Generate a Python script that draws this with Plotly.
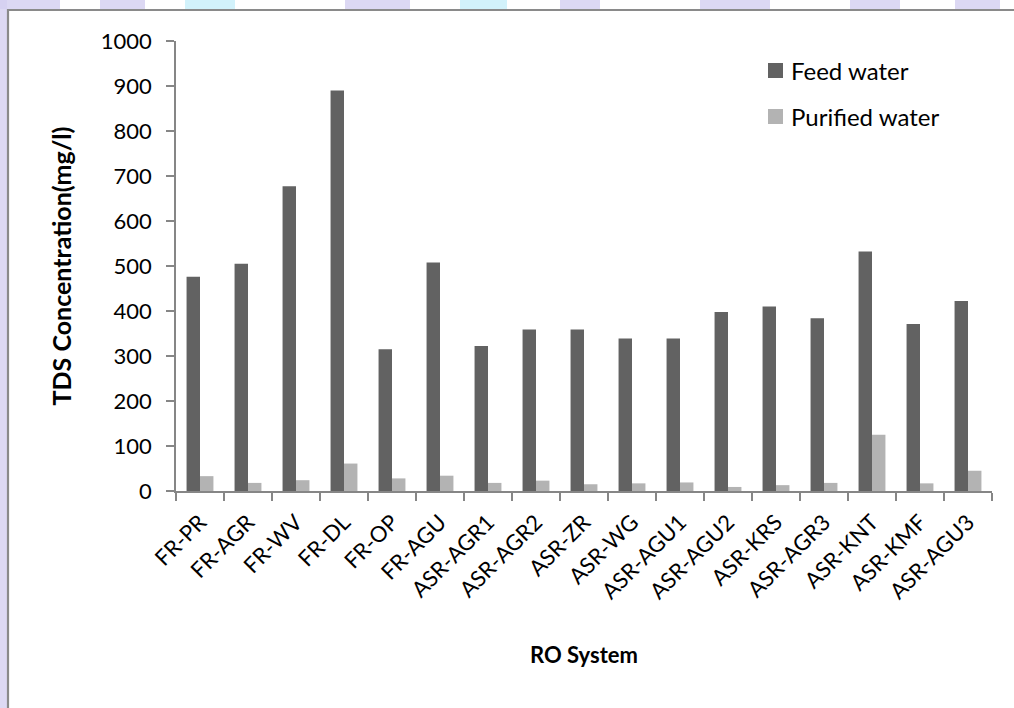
import plotly.graph_objects as go

# RO systems sampled
systems = ["FR-PR", "FR-AGR", "FR-WV", "FR-DL", "FR-OP", "FR-AGU",
           "ASR-AGR1", "ASR-AGR2", "ASR-ZR", "ASR-WG", "ASR-AGU1", "ASR-AGU2",
           "ASR-KRS", "ASR-AGR3", "ASR-KNT", "ASR-KMF", "ASR-AGU3"]

# TDS concentration (mg/l)
feed_water = [476, 505, 677, 890, 315, 508, 322, 359, 359, 339, 339, 398,
              410, 384, 532, 371, 422]
purified_water = [33, 18, 24, 61, 28, 34, 18, 23, 15, 17, 19, 9,
                  13, 18, 125, 17, 45]

y_ticks = [0, 100, 200, 300, 400, 500, 600, 700, 800, 900, 1000]

series_names = ["Feed water", "Purified water"]
series_colors = ["#626262", "#b3b3b3"]

W, H = 1014, 708
L, R, T, B = 176, 22, 41, 217
PW, PH = W - L - R, H - T - B


def px_x(p):
    return (p - L) / PW


def px_y(p):
    return (H - B - p) / PH


FONT = "Lato, Carlito, Calibri, sans-serif"

fig = go.Figure()
for name, values, color in zip(series_names, [feed_water, purified_water],
                               series_colors):
    fig.add_trace(go.Bar(name=name, x=systems, y=values,
                         marker=dict(color=color, line=dict(width=0)),
                         showlegend=False))

shapes = []
annotations = []
# pale decorative page strips behind the chart frame (kept inside the page)
lav = "rgba(205,200,238,0.7)"
blue = "rgba(195,237,250,0.75)"
strips_top = [(0, 60, lav), (100, 145, lav), (185, 235, blue), (345, 410, lav),
              (460, 507, blue), (560, 600, lav), (700, 770, lav), (850, 900, lav),
              (955, 1000, lav)]
for x0, x1, c in strips_top:
    shapes.append(dict(type="rect", xref="paper", yref="paper",
                       x0=px_x(x0), x1=px_x(x1), y0=px_y(9), y1=px_y(0),
                       fillcolor=c, line=dict(width=0), layer="below"))
shapes.append(dict(type="rect", xref="paper", yref="paper",
                   x0=px_x(0), x1=px_x(7), y0=px_y(H), y1=px_y(0),
                   fillcolor="rgba(212,207,240,0.8)", line=dict(width=0),
                   layer="below"))
# chart frame (open to the right and bottom of the page)
shapes.append(dict(type="path", xref="paper", yref="paper",
                   path="M {:.5f},{:.5f} L {:.5f},{:.5f} L {:.5f},{:.5f}".format(
                       px_x(8), px_y(H), px_x(8), px_y(10), px_x(W), px_y(10)),
                   line=dict(color="#8a8a8a", width=2.2), layer="below"))

# legend: colour swatch + label per series
for i, (name, color) in enumerate(zip(series_names, series_colors)):
    cy = 70.5 + 46 * i
    shapes.append(dict(type="rect", xref="paper", yref="paper",
                       x0=px_x(768), x1=px_x(783), y0=px_y(cy + 7.5),
                       y1=px_y(cy - 7.5), fillcolor=color, line=dict(width=0)))
    annotations.append(dict(text=name, xref="paper", yref="paper",
                            x=px_x(789), y=px_y(cy), xanchor="left",
                            yanchor="middle", showarrow=False,
                            font=dict(size=24, family=FONT, color="#000000")))

fig.update_layout(
    width=W, height=H,
    margin=dict(l=L, r=R, t=T, b=B, pad=0),
    paper_bgcolor="white", plot_bgcolor="white",
    barmode="group", bargap=0.44, bargroupgap=0,
    font=dict(family=FONT, color="#000000"),
    shapes=shapes, annotations=annotations,
    showlegend=False,
    xaxis=dict(
        type="category", tickson="boundaries", ticks="outside", ticklen=8,
        tickcolor="#868686", tickwidth=1.5,
        showline=True, linecolor="#868686", linewidth=1.5,
        tickangle=-45, tickfont=dict(size=22, family=FONT),
        ticklabelstandoff=8,
        title=dict(text="<b>RO System</b>", font=dict(size=22, family=FONT),
                   standoff=45),
        showgrid=False, automargin=False,
    ),
    yaxis=dict(
        range=[0, 1000], tickvals=y_ticks, ticks="outside", ticklen=8,
        tickcolor="#868686", tickwidth=1.5,
        showline=True, linecolor="#868686", linewidth=1.5,
        tickfont=dict(size=22, family=FONT), ticklabelstandoff=10,
        title=dict(text="<b>TDS Concentration(mg/l)</b>",
                   font=dict(size=25, family=FONT), standoff=22),
        showgrid=False, zeroline=False, automargin=False,
    ),
)

fig.write_html("out.html", config={"displayModeBar": False})
